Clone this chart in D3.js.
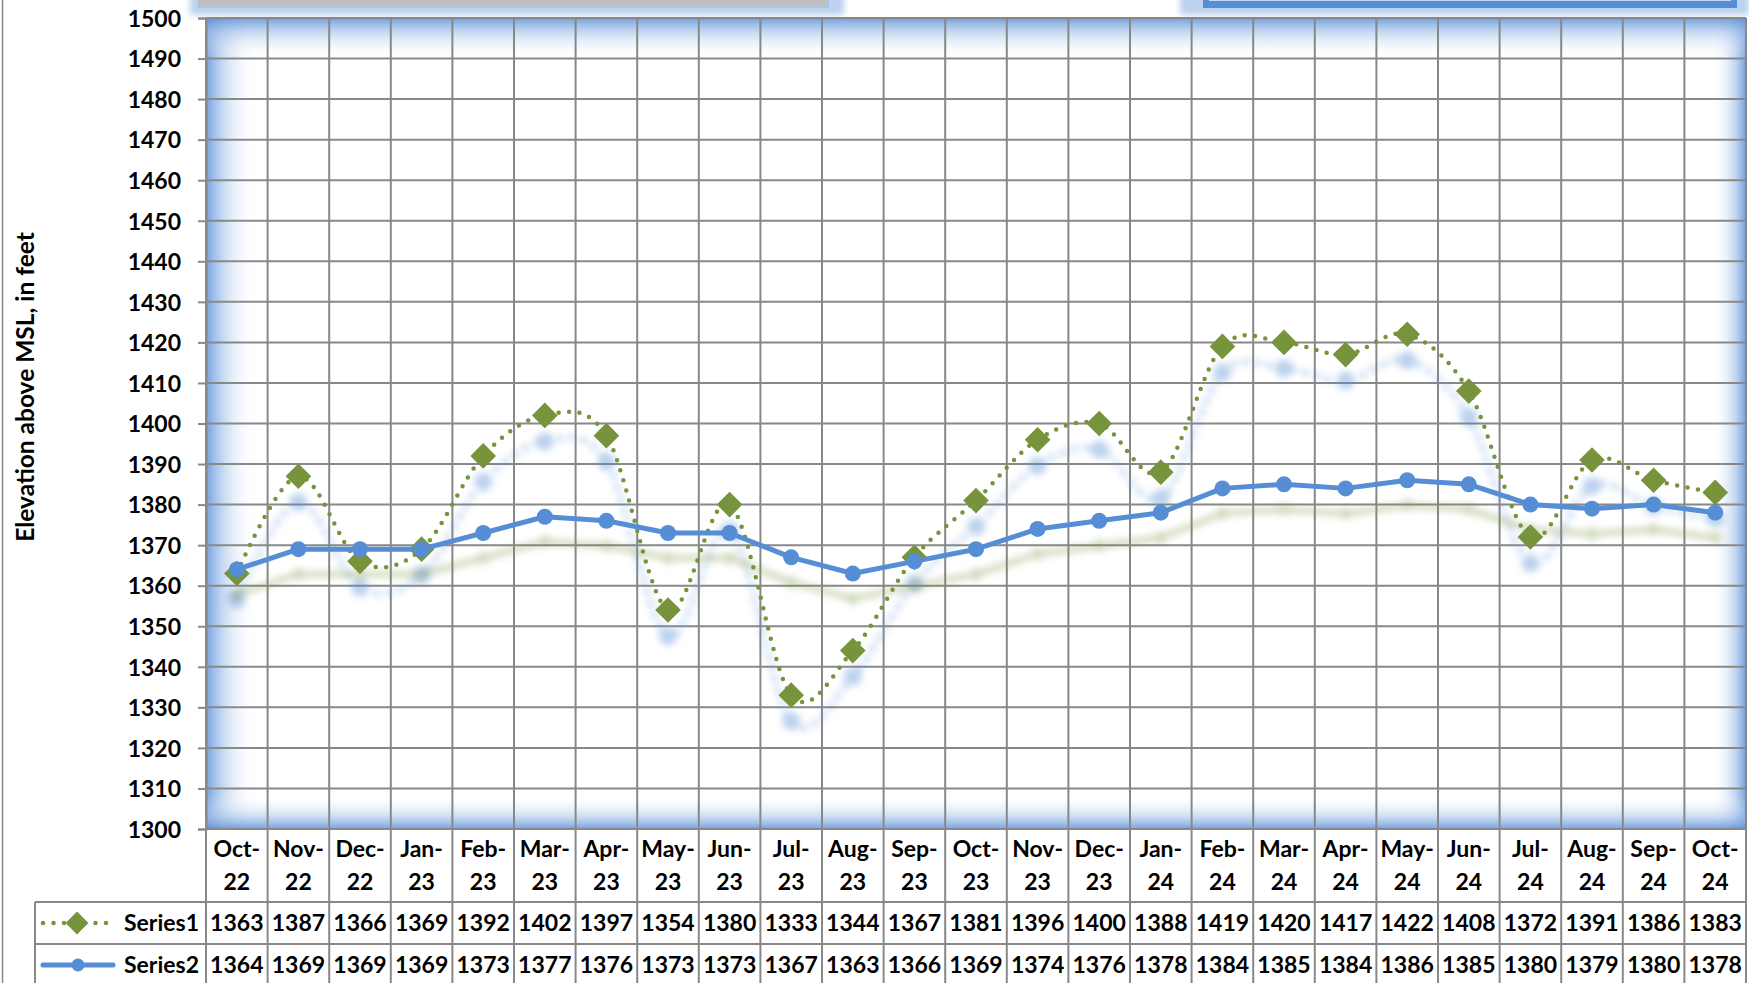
<!DOCTYPE html>
<html>
<head>
<meta charset="utf-8">
<script src="https://cdn.jsdelivr.net/npm/d3@7"></script>
<style>
  body { margin: 0; background: #fff; }
  svg text { font-family: Lato, "Open Sans", sans-serif; font-weight: bold; fill: #000; }
</style>
</head>
<body>
<div id="chart"></div>
<script>
// data
const months = ["Oct-22","Nov-22","Dec-22","Jan-23","Feb-23","Mar-23","Apr-23","May-23","Jun-23","Jul-23","Aug-23","Sep-23",
  "Oct-23","Nov-23","Dec-23","Jan-24","Feb-24","Mar-24","Apr-24","May-24","Jun-24","Jul-24","Aug-24","Sep-24","Oct-24"];
const series1 = [1363,1387,1366,1369,1392,1402,1397,1354,1380,1333,1344,1367,1381,1396,1400,1388,1419,1420,1417,1422,1408,1372,1391,1386,1383];
const series2 = [1364,1369,1369,1369,1373,1377,1376,1373,1373,1367,1363,1366,1369,1374,1376,1378,1384,1385,1384,1386,1385,1380,1379,1380,1378];
const seriesNames = ["Series1","Series2"];
const yTicks = d3.range(1300, 1501, 10);
const yTitle = "Elevation above MSL, in feet";

const W = 1749, H = 983;
const pLeft = 206, pRight = 1746, pTop = 18, pBottom = 829;
const tableTop = 902, rowH = 42, tableLeft = 35;
const green = "#77933c", blue = "#558ed5", grid = "#888";
const fs = "23px";

const svg = d3.select("#chart").append("svg").attr("width", W).attr("height", H);
const defs = svg.append("defs");

// gradients for the inner glow of the plot area
function glow(id, x1, y1, x2, y2){
  let g = defs.append("linearGradient").attr("id", id)
    .attr("x1", x1).attr("y1", y1).attr("x2", x2).attr("y2", y2);
  g.append("stop").attr("offset", "0%").attr("stop-color", "#5b8fd6").attr("stop-opacity", 0.85);
  g.append("stop").attr("offset", "35%").attr("stop-color", "#9dbde8").attr("stop-opacity", 0.55);
  g.append("stop").attr("offset", "100%").attr("stop-color", "#ffffff").attr("stop-opacity", 0);
}
glow("gl", 0, 0, 1, 0);
glow("gr", 1, 0, 0, 0);
glow("gt", 0, 0, 0, 1);
glow("gb", 0, 1, 0, 0);
defs.append("filter").attr("id", "blur").attr("x", "-10%").attr("y", "-10%").attr("width", "120%").attr("height", "120%")
  .append("feGaussianBlur").attr("stdDeviation", 3.5);
defs.append("filter").attr("id", "soft").attr("x", "-10%").attr("y", "-200%").attr("width", "120%").attr("height", "500%")
  .append("feGaussianBlur").attr("stdDeviation", 3);

const x = d3.scaleBand().domain(months).range([pLeft, pRight]);
const y = d3.scaleLinear().domain([1300, 1500]).range([pBottom, pTop]);
const cx = d => x(d) + x.bandwidth() / 2;

// chart outer border (left edge)
svg.append("line").attr("x1", 2.5).attr("x2", 2.5).attr("y1", 0).attr("y2", H)
  .attr("stroke", grid).attr("stroke-width", 1.5);

// cut-off boxes along the top
svg.append("rect").attr("x", 190).attr("y", -10).attr("width", 654).attr("height", 25)
  .attr("fill", "#bcd2ee").attr("filter", "url(#soft)");
svg.append("rect").attr("x", 198.5).attr("y", -5).attr("width", 630).attr("height", 12)
  .attr("fill", "#bfbfbf").attr("stroke", "#a6c0e4").attr("stroke-width", 1);
svg.append("rect").attr("x", 1180).attr("y", -10).attr("width", 569).attr("height", 25)
  .attr("fill", "#bcd2ee").attr("filter", "url(#soft)");
svg.append("rect").attr("x", 1203).attr("y", -5).attr("width", 534).attr("height", 13)
  .attr("fill", blue);
svg.append("rect").attr("x", 1209).attr("y", -5).attr("width", 522).attr("height", 6)
  .attr("fill", "#c6d9f1");

// plot area with glow
const pw = pRight - pLeft, ph = pBottom - pTop;
svg.append("rect").attr("x", pLeft).attr("y", pTop).attr("width", pw).attr("height", ph).attr("fill", "#fff");
svg.append("rect").attr("x", pLeft).attr("y", pTop).attr("width", 50).attr("height", ph).attr("fill", "url(#gl)");
svg.append("rect").attr("x", pRight - 34).attr("y", pTop).attr("width", 34).attr("height", ph).attr("fill", "url(#gr)");
svg.append("rect").attr("x", pLeft).attr("y", pTop).attr("width", pw).attr("height", 42).attr("fill", "url(#gt)");
svg.append("rect").attr("x", pLeft).attr("y", pBottom - 34).attr("width", pw).attr("height", 34).attr("fill", "url(#gb)");

// horizontal gridlines + y axis
const yAxis = d3.axisLeft(y).tickValues(yTicks).tickSize(8).tickPadding(17).tickFormat(d3.format("d"));
const ya = svg.append("g").attr("transform", `translate(${pLeft},0)`).call(yAxis);
ya.select(".domain").attr("stroke", grid).attr("stroke-width", 2);
ya.selectAll(".tick line").attr("stroke", grid).attr("stroke-width", 2);
ya.selectAll(".tick text").style("font-size", fs).attr("dy", "0.36em");
svg.append("g").selectAll("line").data(yTicks).join("line")
  .attr("x1", pLeft).attr("x2", pRight).attr("y1", d => y(d)).attr("y2", d => y(d))
  .attr("stroke", grid).attr("stroke-width", 2);

// vertical gridlines run through the category labels and the data table
const bounds = months.map(m => x(m)).concat([pRight]);
svg.append("g").selectAll("line").data(bounds).join("line")
  .attr("x1", d => d).attr("x2", d => d).attr("y1", pTop).attr("y2", H)
  .attr("stroke", grid).attr("stroke-width", 2);
svg.append("line").attr("x1", tableLeft).attr("x2", pRight).attr("y1", tableTop).attr("y2", tableTop)
  .attr("stroke", grid).attr("stroke-width", 2);
svg.append("line").attr("x1", tableLeft).attr("x2", pRight).attr("y1", tableTop + rowH).attr("y2", tableTop + rowH)
  .attr("stroke", grid).attr("stroke-width", 2);
svg.append("line").attr("x1", tableLeft).attr("x2", tableLeft).attr("y1", tableTop).attr("y2", H)
  .attr("stroke", grid).attr("stroke-width", 2);

// y axis title
svg.append("text").attr("transform", "translate(34,387) rotate(-90)")
  .attr("text-anchor", "middle").style("font-size", "24.5px").text(yTitle);

// category labels on two lines
const cat = svg.append("g").selectAll("text").data(months).join("text")
  .attr("text-anchor", "middle").style("font-size", fs);
cat.append("tspan").attr("x", d => cx(d)).attr("y", 857).text(d => d.split("-")[0] + "-");
cat.append("tspan").attr("x", d => cx(d)).attr("y", 890).text(d => d.split("-")[1]);

// shadows (blurred copies below the lines)
const smooth = d3.line().x((d, i) => cx(months[i])).y(d => y(d)).curve(d3.curveCardinal.tension(0));
const straight = d3.line().x((d, i) => cx(months[i])).y(d => y(d));
const sh1 = svg.append("g").attr("filter", "url(#blur)").attr("opacity", 0.4).attr("transform", "translate(0,26)");
sh1.append("path").attr("d", smooth(series1)).attr("fill", "none").attr("stroke", blue)
  .attr("stroke-width", 6).attr("stroke-dasharray", "6 6");
sh1.selectAll("circle").data(series1).join("circle")
  .attr("cx", (d, i) => cx(months[i])).attr("cy", d => y(d)).attr("r", 9).attr("fill", blue);
const sh2 = svg.append("g").attr("filter", "url(#blur)").attr("opacity", 0.35).attr("transform", "translate(0,25)");
sh2.append("path").attr("d", straight(series2)).attr("fill", "none").attr("stroke", green).attr("stroke-width", 6);
sh2.selectAll("circle").data(series2).join("circle")
  .attr("cx", (d, i) => cx(months[i])).attr("cy", d => y(d)).attr("r", 6).attr("fill", green);

// Series1: smooth dotted green line with diamonds
const diamond = d3.symbol().type(d3.symbolDiamond2).size(420);
const smallDiamond = d3.symbol().type(d3.symbolDiamond2).size(330);
svg.append("path").attr("d", smooth(series1)).attr("fill", "none").attr("stroke", green)
  .attr("stroke-width", 4.5).attr("stroke-linecap", "round").attr("stroke-dasharray", "0 10.5");
svg.append("g").selectAll("path").data(series1).join("path")
  .attr("d", diamond).attr("transform", (d, i) => `translate(${cx(months[i])},${y(d)})`).attr("fill", green);

// Series2: solid blue line with circles
svg.append("path").attr("d", straight(series2)).attr("fill", "none").attr("stroke", blue)
  .attr("stroke-width", 5).attr("stroke-linejoin", "round");
svg.append("g").selectAll("circle").data(series2).join("circle")
  .attr("cx", (d, i) => cx(months[i])).attr("cy", d => y(d)).attr("r", 8).attr("fill", blue);

// data table rows
[series1, series2].forEach(function(vals, r){
  let base = tableTop + rowH * r + 29;
  let mid = tableTop + rowH * r + rowH / 2;
  svg.append("g").selectAll("text").data(vals).join("text")
    .attr("x", (d, i) => cx(months[i])).attr("y", base).attr("text-anchor", "middle")
    .style("font-size", fs).text(d => d);
  svg.append("text").attr("x", 199).attr("y", base).attr("text-anchor", "end")
    .style("font-size", fs).text(seriesNames[r]);
  // legend keys
  if (r == 0){
    svg.append("line").attr("x1", 43).attr("x2", 107).attr("y1", mid).attr("y2", mid)
      .attr("stroke", green).attr("stroke-width", 4.5).attr("stroke-linecap", "round").attr("stroke-dasharray", "0 10.5");
    svg.append("path").attr("d", smallDiamond).attr("transform", `translate(77,${mid})`).attr("fill", green);
  } else {
    svg.append("line").attr("x1", 43).attr("x2", 113).attr("y1", mid).attr("y2", mid)
      .attr("stroke", blue).attr("stroke-width", 5).attr("stroke-linecap", "round");
    svg.append("circle").attr("cx", 78).attr("cy", mid).attr("r", 6.5).attr("fill", blue);
  }
});
</script>
</body>
</html>
